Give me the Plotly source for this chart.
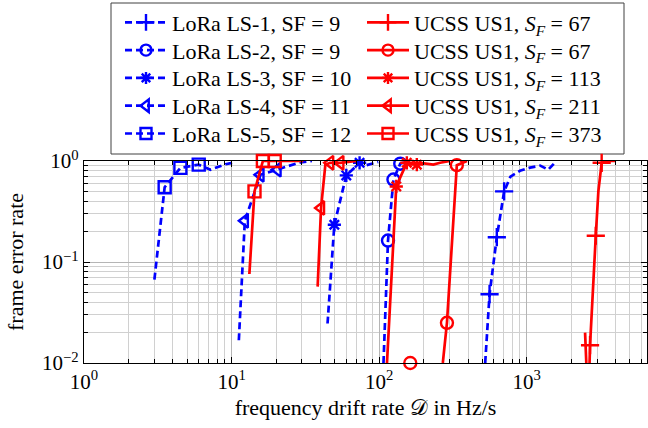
import plotly.graph_objects as go

BLUE = "#0000ff"
RED = "#ff0000"

# ---------------- data (frequency drift rate in Hz/s, frame error rate) ----------------
ls1_x = [523, 560, 627, 703, 776, 900, 1054, 1233, 1400, 1557]
ls1_y = [0.01, 0.048, 0.176, 0.50, 0.70, 0.80, 0.86, 0.90, 0.82, 0.97]
ls1_mx = [560, 627, 703]
ls1_my = [0.048, 0.176, 0.50]

ls2_x = [107, 114.8, 125, 139, 160]
ls2_y = [0.01, 0.163, 0.655, 0.94, 1.0]
ls2_mx = [114.8, 125, 139]
ls2_my = [0.163, 0.655, 0.94]

ls3_x = [44.7, 49.7, 59.9, 73.7, 80, 98.6]
ls3_y = [0.0246, 0.234, 0.72, 0.96, 0.90, 0.98]
ls3_mx = [49.7, 59.9, 73.7]
ls3_my = [0.234, 0.72, 0.96]

ls4_x = [11.2, 12.3, 15.7, 20.5, 29.2, 35]
ls4_y = [0.0168, 0.256, 0.73, 0.82, 0.97, 1.0]
ls4_mx = [12.3, 15.7, 20.5]
ls4_my = [0.256, 0.73, 0.82]

ls5_x = [3.0, 3.52, 4.5, 5.99, 7.2, 9.1, 10.5]
ls5_y = [0.067, 0.55, 0.855, 0.92, 0.82, 0.93, 0.97]
ls5_mx = [3.52, 4.5, 5.99]
ls5_my = [0.55, 0.855, 0.92]

us67a_x = [2485, 2570, 2640, 2686, 2937, 3058, 3220, 3600, 4030]
us67a_y = [0.02, 0.006, 0.006, 0.015, 0.182, 0.50, 0.96, 1.0, 1.0]
us67a_mx = [2686, 2937, 3220]
us67a_my = [0.015, 0.182, 0.96]

us67b_x = [270, 288, 336, 394]
us67b_y = [0.01, 0.025, 0.91, 1.0]
us67b_mx = [162.5, 288, 336]
us67b_my = [0.01, 0.025, 0.91]

us113_x = [113, 130.6, 154, 180, 190, 233, 259, 302]
us113_y = [0.01, 0.56, 0.96, 0.92, 0.96, 0.92, 0.96, 1.0]
us113_mx = [130.6, 154, 180]
us113_my = [0.56, 0.96, 0.92]

us211_x = [38.3, 40.4, 43.2, 46.6, 54.6, 70]
us211_y = [0.057, 0.343, 0.92, 0.96, 0.96, 1.0]
us211_mx = [40.4, 46.6, 54.6]
us211_my = [0.343, 0.96, 0.96]

us373_x = [13.2, 14.3, 16.3, 19.6, 25, 30.6]
us373_y = [0.076, 0.50, 1.0, 1.0, 0.99, 1.0]
us373_mx = [14.3, 16.3, 19.6]
us373_my = [0.50, 1.0, 1.0]

lora_names = ["LoRa LS-1, SF = 9", "LoRa LS-2, SF = 9", "LoRa LS-3, SF = 10",
              "LoRa LS-4, SF = 11", "LoRa LS-5, SF = 12"]
ucss_names = ["UCSS US1, <i>S</i><sub><i>F</i></sub> = 67", "UCSS US1, <i>S</i><sub><i>F</i></sub> = 67",
              "UCSS US1, <i>S</i><sub><i>F</i></sub> = 113", "UCSS US1, <i>S</i><sub><i>F</i></sub> = 211",
              "UCSS US1, <i>S</i><sub><i>F</i></sub> = 373"]

symbols = ["cross-thin-open", "circle-open", "asterisk-open", "triangle-left-open", "square-open"]
msizes = [13, 12, 11, 12, 12]

lora = [(ls1_x, ls1_y, ls1_mx, ls1_my), (ls2_x, ls2_y, ls2_mx, ls2_my),
        (ls3_x, ls3_y, ls3_mx, ls3_my), (ls4_x, ls4_y, ls4_mx, ls4_my),
        (ls5_x, ls5_y, ls5_mx, ls5_my)]
ucss = [(us67a_x, us67a_y, us67a_mx, us67a_my), (us67b_x, us67b_y, us67b_mx, us67b_my),
        (us113_x, us113_y, us113_mx, us113_my), (us211_x, us211_y, us211_mx, us211_my),
        (us373_x, us373_y, us373_mx, us373_my)]

FONT = "Liberation Serif"
DASH = "7px,4px"
LW = 2.7
MLW = 2.4

# ---------------- page geometry (pixels) ----------------
W, H = 648, 428
ML, MR, MT, MB = 84, 1, 161, 65
PW = W - ML - MR
PH = H - MT - MB


def px_x(p):
    return (p - ML) / PW


def px_y(p):
    return (H - MB - p) / PH


fig = go.Figure()


def add_series(data, color, dash, sym, ms):
    x, y, mx, my = data
    fig.add_trace(go.Scatter(x=x, y=y, mode="lines", showlegend=False,
                             line=dict(color=color, width=LW, dash=dash), cliponaxis=True))
    fig.add_trace(go.Scatter(x=mx, y=my, mode="markers", showlegend=False, cliponaxis=False,
                             marker=dict(symbol=sym, size=ms, color=color,
                                         line=dict(color=color, width=MLW))))


for i in range(5):
    add_series(lora[i], BLUE, DASH, symbols[i], msizes[i])
for i in range(5):
    add_series(ucss[i], RED, "solid", symbols[i], msizes[i])

# ---------------- legend: one small legend per entry, two columns ----------------
row_y = [22.5 + 27.8 * i for i in range(5)]
col_x = [120, 362]
legend_layouts = {}
k = 0
for col, (names, color, dash) in enumerate([(lora_names, BLUE, DASH), (ucss_names, RED, "solid")]):
    for i in range(5):
        k += 1
        lname = "legend" if k == 1 else f"legend{k}"
        fig.add_trace(go.Scatter(x=[None], y=[None], mode="lines+markers", name=names[i],
                                 legend=lname, showlegend=True,
                                 line=dict(color=color, width=LW, dash=dash),
                                 marker=dict(symbol=symbols[i], size=msizes[i] - 1, color=color,
                                             line=dict(color=color, width=MLW))))
        legend_layouts[lname] = dict(x=px_x(col_x[col]), y=px_y(row_y[i]),
                                     xanchor="left", yanchor="middle",
                                     bgcolor="rgba(0,0,0,0)", borderwidth=0,
                                     itemwidth=42,
                                     font=dict(family=FONT, size=22, color="black"))

x_major = [1, 10, 100, 1000]
x_major_text = ["10<sup>0</sup>", "10<sup>1</sup>", "10<sup>2</sup>", "10<sup>3</sup>"]
x_minor = [m * d for d in [1, 10, 100, 1000] for m in range(2, 10)]
y_major = [0.01, 0.1, 1]
y_major_text = ["10<sup>\u22122</sup>", "10<sup>\u22121</sup>", "10<sup>0</sup>"]
y_minor = [m * d for d in [0.01, 0.1] for m in range(2, 10)]

axis_common = dict(type="log", showline=True, linecolor="black", linewidth=1.2, mirror="allticks",
                   ticks="inside", ticklen=6, tickcolor="black", tickwidth=1,
                   showgrid=True, gridcolor="#b5b5b5", gridwidth=1, zeroline=False,
                   tickfont=dict(family=FONT, size=21, color="black"))

fig.update_layout(
    width=W, height=H,
    margin=dict(l=ML, r=MR, t=MT, b=MB, pad=0),
    paper_bgcolor="white", plot_bgcolor="white",
    font=dict(family=FONT, size=22, color="black"),
    xaxis=dict(range=[0, 3.815], tickmode="array", tickvals=x_major, ticktext=x_major_text,
               minor=dict(tickmode="array", tickvals=x_minor, ticks="inside", ticklen=3.5,
                          tickcolor="black", showgrid=True, gridcolor="#d0d0d0"),
               title=dict(text="frequency drift rate \U0001D49F in Hz/s",
                          font=dict(family=FONT, size=22), standoff=6),
               **axis_common),
    yaxis=dict(range=[-2, 0], tickmode="array", tickvals=y_major, ticktext=y_major_text,
               minor=dict(tickmode="array", tickvals=y_minor, ticks="inside", ticklen=3.5,
                          tickcolor="black", showgrid=True, gridcolor="#d0d0d0"),
               title=dict(text="frame error rate", font=dict(family=FONT, size=22), standoff=12),
               **axis_common),
    showlegend=True,
    shapes=[dict(type="rect", xref="paper", yref="paper",
                 x0=px_x(111), x1=px_x(624), y0=px_y(154), y1=px_y(3),
                 line=dict(color="#404040", width=1), fillcolor="white", layer="below")],
    **legend_layouts,
)

fig.write_html("out.html")
